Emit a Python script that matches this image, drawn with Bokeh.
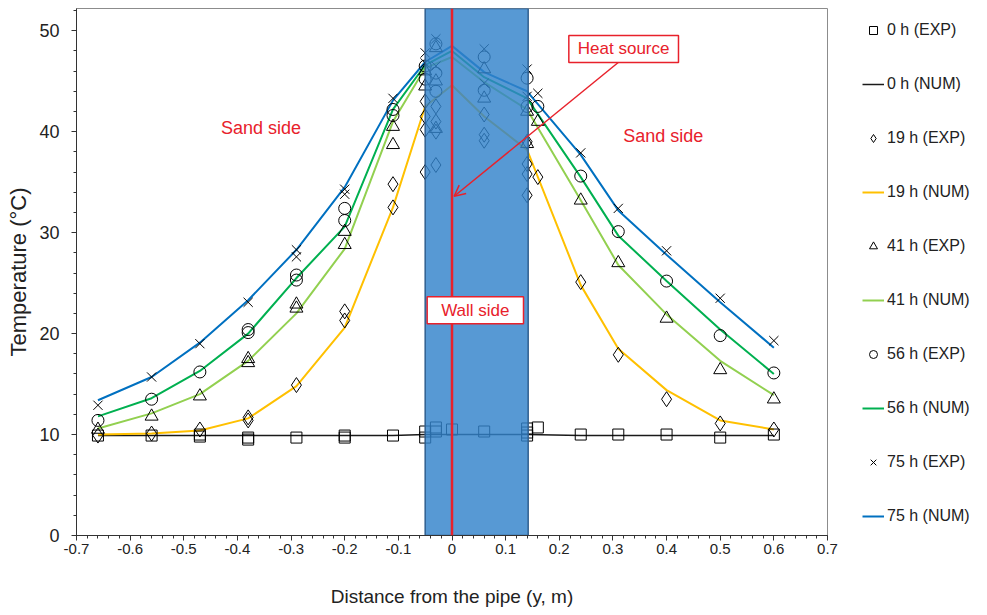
from bokeh.plotting import figure
from bokeh.layouts import row
from bokeh.models import (Range1d, FixedTicker, Legend, LegendItem, Label, Arrow,
                          OpenHead, Span)
from bokeh.embed import file_html
from bokeh.resources import INLINE

# ---------------- data ----------------
x_num = [-0.66, -0.56, -0.47, -0.38, -0.29, -0.2, -0.11, -0.05, 0.0, 0.06, 0.14,
         0.24, 0.31, 0.40, 0.50, 0.60]
y_num_0 = [9.9, 9.9, 9.9, 9.9, 9.9, 9.9, 9.9, 10.0, 10.0, 10.0, 10.0, 9.9, 9.9, 9.9, 9.9, 9.9]
y_num_19 = [10.0, 10.1, 10.4, 11.6, 14.8, 20.6, 32.5, 42.5, 44.6, 41.5, 38.2, 24.8, 18.5, 14.4, 11.4, 10.5]
y_num_41 = [10.6, 12.1, 14.0, 17.3, 22.0, 28.4, 41.0, 46.3, 47.4, 44.9, 42.2, 33.2, 26.8, 21.9, 17.3, 13.9]
y_num_56 = [11.8, 13.6, 16.3, 20.0, 25.5, 30.6, 42.2, 46.6, 48.0, 45.4, 43.3, 35.5, 29.7, 25.2, 20.4, 16.0]
y_num_75 = [13.4, 15.7, 19.1, 23.3, 28.3, 34.5, 43.1, 46.9, 48.5, 45.9, 44.0, 37.7, 32.2, 27.8, 23.1, 18.6]

x_exp_0 = [-0.66, -0.56, -0.47, -0.47, -0.38, -0.38, -0.29, -0.2, -0.2, -0.11, -0.05, -0.05,
           -0.03, -0.03, 0.0, 0.06, 0.14, 0.14, 0.14, 0.16, 0.24, 0.31, 0.40, 0.50, 0.60]
y_exp_0 = [9.9, 9.9, 9.8, 10.0, 9.5, 9.7, 9.7, 9.9, 9.7, 9.9, 10.3, 9.7,
           10.7, 10.3, 10.5, 10.3, 10.6, 10.2, 9.9, 10.7, 10.0, 10.0, 10.0, 9.7, 10.0]

x_exp_19 = [-0.66, -0.56, -0.47, -0.38, -0.38, -0.29, -0.2, -0.2, -0.11, -0.11,
            -0.05, -0.05, -0.05, -0.05, -0.03, -0.03, -0.03, -0.03, 0.06, 0.06, 0.06,
            0.14, 0.14, 0.14, 0.14, 0.16, 0.24, 0.31, 0.40, 0.50, 0.60]
y_exp_19 = [9.9, 10.1, 10.5, 11.7, 11.4, 14.9, 22.2, 21.3, 34.8, 32.5,
            43.0, 41.5, 40.2, 36.0, 42.5, 41.0, 40.0, 36.7, 41.7, 39.7, 39.1,
            39.0, 36.8, 35.8, 33.7, 35.5, 25.1, 17.9, 13.5, 11.1, 10.5]

x_exp_41 = [-0.66, -0.56, -0.47, -0.38, -0.38, -0.29, -0.29, -0.2, -0.2, -0.11, -0.11,
            -0.05, -0.05, -0.03, -0.03, -0.03, 0.06, 0.06, 0.14, 0.14, 0.16,
            0.24, 0.31, 0.40, 0.50, 0.60]
y_exp_41 = [10.5, 11.8, 13.8, 17.5, 17.1, 22.9, 22.5, 30.1, 28.8, 40.5, 38.7,
            46.0, 44.5, 48.3, 45.0, 40.3, 46.2, 43.3, 42.0, 38.8, 41.0,
            33.2, 27.0, 21.5, 16.4, 13.5]

x_exp_56 = [-0.66, -0.56, -0.47, -0.38, -0.38, -0.29, -0.29, -0.2, -0.2, -0.11, -0.11,
            -0.05, -0.05, -0.03, -0.03, -0.03, 0.06, 0.06, 0.14, 0.14, 0.16,
            0.24, 0.31, 0.40, 0.50, 0.60]
y_exp_56 = [11.4, 13.5, 16.2, 20.4, 20.1, 25.8, 25.3, 32.4, 31.2, 42.2, 41.6,
            46.5, 45.2, 48.7, 45.8, 44.0, 47.4, 44.1, 45.3, 42.5, 42.5,
            35.6, 30.1, 25.2, 19.8, 16.1]

x_exp_75 = [-0.66, -0.56, -0.47, -0.38, -0.29, -0.29, -0.2, -0.2, -0.11,
            -0.05, -0.05, -0.03, -0.03, 0.06, 0.06, 0.14, 0.14, 0.16,
            0.24, 0.31, 0.40, 0.50, 0.60]
y_exp_75 = [12.9, 15.7, 19.0, 23.1, 28.3, 27.6, 34.3, 33.8, 43.3,
            47.8, 46.8, 49.2, 46.5, 48.2, 44.8, 46.2, 43.5, 43.8,
            37.9, 32.4, 28.2, 23.5, 19.3]

wall_left = -0.05
wall_right = 0.142
heat_source_x = 0.0

x_ticks = [-0.7, -0.6, -0.5, -0.4, -0.3, -0.2, -0.1, 0.0, 0.1, 0.2, 0.3, 0.4, 0.5, 0.6, 0.7]
y_ticks = [0, 10, 20, 30, 40, 50]

series_labels = ["0 h", "19 h", "41 h", "56 h", "75 h"]
num_colors = ["#1a1a1a", "#FFC000", "#92D050", "#00B050", "#0070C0"]
exp_markers = ["square", "diamond", "triangle", "circle", "x"]

num_y = [y_num_0, y_num_19, y_num_41, y_num_56, y_num_75]
exp_x = [x_exp_0, x_exp_19, x_exp_41, x_exp_56, x_exp_75]
exp_y = [y_exp_0, y_exp_19, y_exp_41, y_exp_56, y_exp_75]

# ---------------- main figure ----------------
Y_TOP = 52.2
RED = "#E8212B"
FONT = "Liberation Sans"
H = 609

p = figure(width=850, height=H, x_range=Range1d(-0.7, 0.7),
           y_range=Range1d(0, Y_TOP), output_backend="svg", toolbar_location=None,
           min_border_left=76, min_border_right=23, min_border_top=8, min_border_bottom=69)
p.xgrid.visible = False
p.ygrid.visible = False
p.outline_line_color = "#8c8c8c"
p.outline_line_width = 1
p.background_fill_color = "white"

p.xaxis.ticker = FixedTicker(ticks=x_ticks,
                             minor_ticks=[round(-0.7 + 0.02 * i, 2) for i in range(71)])
p.yaxis.ticker = FixedTicker(ticks=y_ticks, minor_ticks=list(range(0, 53, 2)))
p.xaxis.major_label_overrides = {t: ("0" if t == 0 else f"{t:.1f}") for t in x_ticks}
for ax in (p.xaxis[0], p.yaxis[0]):
    ax.axis_line_color = "#333333"
    ax.major_tick_line_color = "#333333"
    ax.minor_tick_line_color = "#333333"
    ax.major_tick_in = 0
    ax.major_tick_out = 5
    ax.minor_tick_in = 0
    ax.minor_tick_out = 3
    ax.major_label_text_font = FONT
    ax.major_label_text_color = "#222222"
    ax.axis_label_text_font = FONT
    ax.axis_label_text_font_style = "normal"
    ax.axis_label_text_color = "#222222"
p.xaxis.major_label_text_font_size = "15px"
p.yaxis.major_label_text_font_size = "18px"
p.xaxis.axis_label = "Distance from the pipe (y, m)"
p.yaxis.axis_label = "Temperature (°C)"
p.xaxis.axis_label_text_font_size = "19px"
p.yaxis.axis_label_text_font_size = "22px"
p.xaxis.major_label_standoff = 3
p.yaxis.major_label_standoff = 12
p.xaxis.axis_label_standoff = 29
p.yaxis.axis_label_standoff = 5

# numerical lines
for ys, c in zip(num_y, num_colors):
    p.line(x_num, ys, line_color=c, line_width=1.5 if c == "#1a1a1a" else 2)

# experimental markers
mk = dict(fill_color=None, line_color="black", line_width=1)
exp_sizes = [11, 15, 13, 12, 13]
for xs, ys, m, s in zip(exp_x, exp_y, exp_markers, exp_sizes):
    p.scatter(xs, ys, marker=m, size=s, **mk)

# wall region and heat source
p.quad(left=[wall_left], right=[wall_right], bottom=[0], top=[Y_TOP],
       fill_color="#3282CA", fill_alpha=0.82, line_color="#2F5F8F", line_width=1.5)
p.add_layout(Span(location=heat_source_x, dimension="height", line_color=RED, line_width=2.5))

# annotations
p.add_layout(Label(x=-0.356, y=40.4, text="Sand side", text_color=RED, text_font=FONT,
                   text_font_size="18px", text_align="center", text_baseline="middle"))
p.add_layout(Label(x=0.394, y=39.6, text="Sand side", text_color=RED, text_font=FONT,
                   text_font_size="18px", text_align="center", text_baseline="middle"))
p.add_layout(Arrow(end=OpenHead(line_color=RED, line_width=1.5, size=11),
                   x_start=0.311, y_start=46.9, x_end=0.004, y_end=33.6,
                   line_color=RED, line_width=1.5))
p.add_layout(Label(x=0.32, y=48.2, text="Heat source", text_color=RED, text_font=FONT,
                   text_font_size="17px", text_align="center", text_baseline="middle",
                   background_fill_color="white", border_line_color=RED, border_line_width=1.5,
                   padding=dict(left=9, right=9, top=4, bottom=4)))
p.add_layout(Label(x=0.0435, y=22.3, text="Wall side", text_color=RED, text_font=FONT,
                   text_font_size="17px", text_align="center", text_baseline="middle",
                   background_fill_color="white", border_line_color=RED, border_line_width=1.5,
                   padding=dict(left=14, right=14, top=4, bottom=4)))

# ---------------- legend panel ----------------
# a narrow companion plot whose ranges exclude all data: only its legend shows
lg = figure(width=134, height=H, x_range=Range1d(0, 1), y_range=Range1d(0, 1),
            output_backend="svg", toolbar_location=None, x_axis_type=None, y_axis_type=None,
            min_border=0)
lg.outline_line_color = None
lg.xgrid.visible = False
lg.ygrid.visible = False

items = []
legend_sizes = [9, 10, 9, 9, 9]
for lab, c, m, s, xs, ys, yn in zip(series_labels, num_colors, exp_markers, legend_sizes,
                                    exp_x, exp_y, num_y):
    r_exp = lg.scatter(xs, ys, marker=m, size=s, fill_color=None, line_color="black",
                       line_width=1)
    r_num = lg.line(x_num, yn, line_color=c, line_width=1.5 if c == "#1a1a1a" else 2)
    items.append(LegendItem(label=f"{lab} (EXP)", renderers=[r_exp]))
    items.append(LegendItem(label=f"{lab} (NUM)", renderers=[r_num]))

legend = Legend(items=items, location="top_left", padding=0, margin=12,
                glyph_width=22, glyph_height=20, label_height=20, spacing=34,
                label_standoff=3, label_text_font=FONT, label_text_font_size="16px",
                label_text_color="#222222", border_line_alpha=0, background_fill_alpha=0)
lg.add_layout(legend)

open("out.html", "w").write(file_html(row(p, lg), INLINE))
